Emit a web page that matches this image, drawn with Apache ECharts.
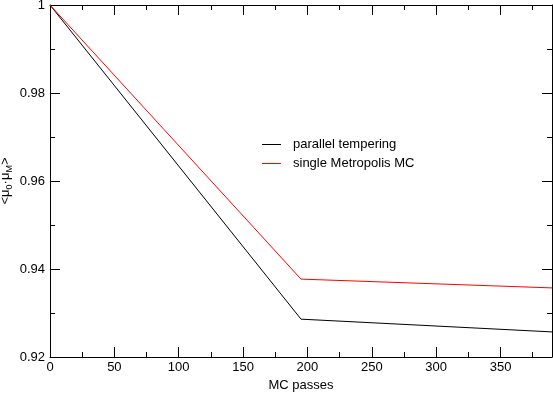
<!DOCTYPE html>
<html><head><meta charset="utf-8">
<script src="https://cdn.jsdelivr.net/npm/echarts@6/dist/echarts.min.js"></script>
<style>html,body{margin:0;padding:0;background:#fff}#c{width:553px;height:393px}</style>
</head><body><div id="c"></div>
<script>
var xPT = [0, 195, 390];
var yPT = [1.0, 0.9286, 0.9257];
var xMC = [0, 195, 390];
var yMC = [1.0, 0.9377, 0.9357];
var seriesNames = ['parallel tempering', 'single Metropolis MC'];
var xTitle = 'MC passes';

function pairs(xs, ys){ return xs.map(function(x,i){return [x, ys[i]];}); }
var font = 'Liberation Sans, Arial, sans-serif';
var axisCommon = {
  axisLine:{show:true,onZero:false,lineStyle:{color:'#000',width:1}},
  axisTick:{show:true,inside:true,length:10,lineStyle:{color:'#000'}},
  minorTick:{show:true,splitNumber:2,length:5,lineStyle:{color:'#000'}},
  splitLine:{show:false}
};
function ax(extra){ return Object.assign({}, JSON.parse(JSON.stringify(axisCommon)), extra); }

var chart = echarts.init(document.getElementById('c'));
chart.setOption({
  animation:false,
  backgroundColor:'#fff',
  grid:{left:50,right:1,top:5,bottom:36,containLabel:false,outerBoundsMode:'none'},
  legend:{
    orient:'vertical', left:257, top:133, itemWidth:19, itemHeight:1, itemGap:6,
    icon:'rect',
    textStyle:{fontFamily:font,fontSize:13,color:'#000',padding:[0,0,0,7]},
    data:seriesNames
  },
  xAxis:[
    ax({type:'value',min:0,max:390,interval:50,position:'bottom',
      name:xTitle,nameLocation:'middle',nameGap:22,nameMoveOverlap:false,
      nameTextStyle:{fontFamily:font,fontSize:13,color:'#000'},
      axisLabel:{fontFamily:font,fontSize:13,color:'#000',margin:4,showMaxLabel:false}}),
    ax({type:'value',min:0,max:390,interval:50,position:'top',axisLabel:{show:false}})
  ],
  yAxis:[
    ax({type:'value',min:0.92,max:1,interval:0.02,position:'left',
      name:'{a|<μ}{s|0}{a|·μ}{s|M}{a|>}',nameLocation:'middle',nameRotate:90,nameGap:36,nameMoveOverlap:false,
      nameTextStyle:{rich:{
        a:{fontFamily:font,fontSize:13,color:'#000',lineHeight:18,verticalAlign:'middle'},
        s:{fontFamily:font,fontSize:9,color:'#000',lineHeight:18,verticalAlign:'bottom',padding:[6,0,0,0]}
      }},
      axisLabel:{fontFamily:font,fontSize:13,color:'#000',margin:5,
        formatter:function(v){return String(parseFloat(v.toFixed(2)));}}}),
    ax({type:'value',min:0.92,max:1,interval:0.02,position:'right',axisLabel:{show:false}})
  ],
  series:[
    {name:seriesNames[0],type:'line',data:pairs(xPT,yPT),showSymbol:false,symbol:'none',
     lineStyle:{color:'#000',width:1},itemStyle:{color:'#000'}},
    {name:seriesNames[1],type:'line',data:pairs(xMC,yMC),showSymbol:false,symbol:'none',
     lineStyle:{color:'#ff0000',width:1},itemStyle:{color:'#ff0000'}}
  ]
});
</script></body></html>
